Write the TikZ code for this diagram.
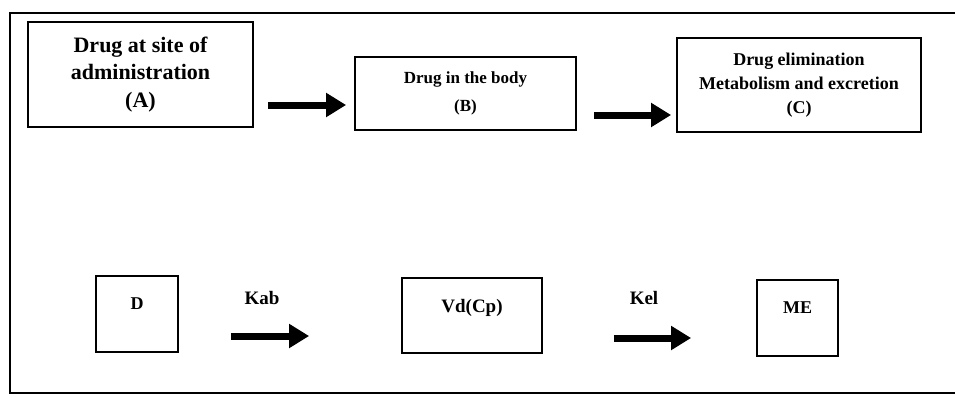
\documentclass[tikz,border=0pt]{standalone}
\usepackage{fontspec}
\setmainfont{Liberation Serif}
\usetikzlibrary{arrows.meta}
\begin{document}
\begin{tikzpicture}[x=1pt,y=-1pt,
  box/.style={draw,line width=1.8pt,inner sep=0pt,align=center,font=\bfseries},
  arr/.style={line width=7pt,-{Triangle[length=20pt,width=23pt]}},
  lab/.style={inner sep=0pt,font=\bfseries\fontsize{19}{19}\selectfont}]
\useasboundingbox (0,0) rectangle (955,397);
% frame (open at right)
\draw[line width=2.6pt] (955,13) -- (10,13) -- (10,393) -- (955,393);
% top row
\node[box,minimum width=225pt,minimum height=105pt,
  font=\bfseries\fontsize{22}{27.5}\selectfont] (A) at (140.5,74.5)
  {Drug at site of\\administration\\(A)};
\node[box,minimum width=221pt,minimum height=73pt,
  font=\bfseries\fontsize{17}{28}\selectfont] (B) at (465.5,93.5)
  {Drug in the body\\(B)};
\node[box,minimum width=244pt,minimum height=94pt,
  font=\bfseries\fontsize{18}{24}\selectfont] (C) at (799,85)
  {Drug elimination\\Metabolism and excretion\\(C)};
\draw[arr,shorten <=14pt,shorten >=8pt] (A.east |- 0,105) -- (B.west |- 0,105);
\draw[arr,shorten <=17pt,shorten >=5pt] (B.east |- 0,115) -- (C.west |- 0,115);
% bottom row
\node[box,minimum width=82pt,minimum height=76pt,text height=12pt,text depth=22pt,
  font=\bfseries\fontsize{18}{18}\selectfont] (D) at (137,314) {D};
\node[box,minimum width=140pt,minimum height=75pt,text height=12pt,text depth=19pt,
  font=\bfseries\fontsize{19}{19}\selectfont] (V) at (472,315.5) {Vd(Cp)};
\node[box,minimum width=81pt,minimum height=76pt,text height=12pt,text depth=22pt,
  font=\bfseries\fontsize{18}{18}\selectfont] (M) at (797.5,318) {ME};
\node[lab] (kab) at (262,298) {Kab};
\node[lab] (kel) at (644,298) {Kel};
\draw[arr,shorten <=52pt,shorten >=92pt] (D.east |- 0,336) -- (V.west |- 0,336);
\draw[arr,shorten <=71pt,shorten >=65pt] (V.east |- 0,338) -- (M.west |- 0,338);
\end{tikzpicture}
\end{document}
